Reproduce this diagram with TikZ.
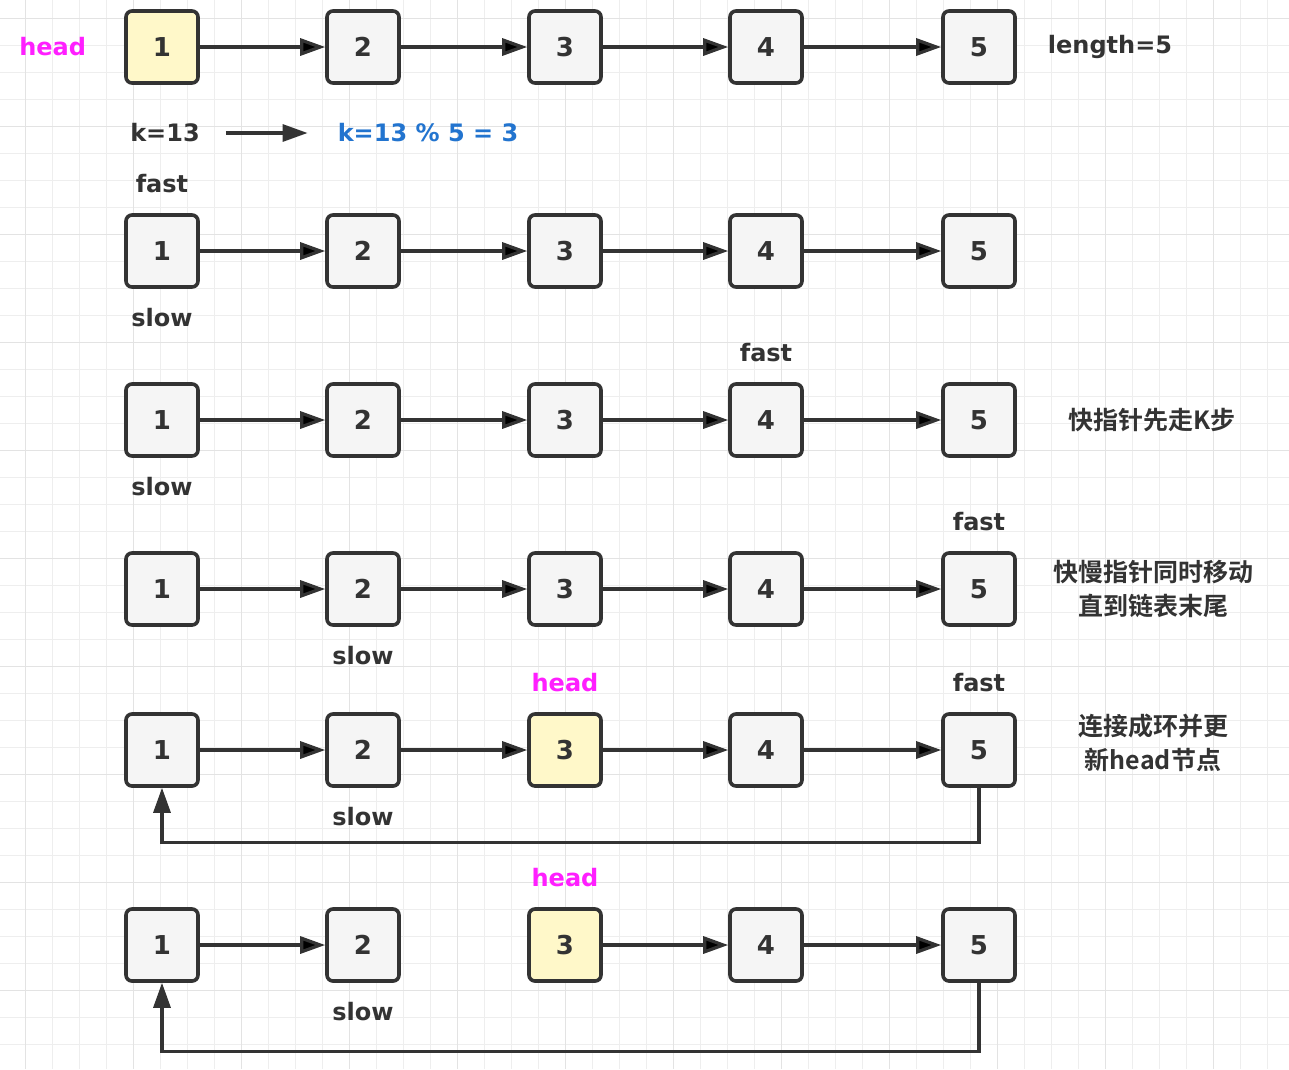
\documentclass[tikz,border=0pt]{standalone}
\usepackage{fontspec}
\setmainfont{DejaVu Sans}
\newfontfamily\cjk{Noto Sans CJK SC}[BoldFont={Noto Sans CJK SC Bold}]
\usetikzlibrary{arrows.meta, positioning}

\definecolor{linec}{HTML}{333333}
\definecolor{boxfill}{HTML}{F5F5F5}
\definecolor{headfill}{HTML}{FFF8C9}
\definecolor{headc}{HTML}{FF1FFF}
\definecolor{kblue}{HTML}{2274CF}
\definecolor{gridc}{HTML}{EEEEEE}
\definecolor{gridmaj}{HTML}{E3E3E3}

\begin{document}
\begin{tikzpicture}[x=1pt,y=-1pt,>={Triangle[length=25pt,width=17pt]},
  box/.style={draw=linec, line width=3.6pt, rounded corners=6pt, fill=boxfill,
    minimum size=72pt, inner sep=0pt, text=linec,
    font=\bfseries\fontsize{26}{30}\selectfont},
  lbl/.style={inner sep=0pt, text=linec, font=\bfseries\fontsize{24}{28}\selectfont},
  note/.style={inner sep=0pt, align=center, text=linec,
    font=\cjk\bfseries\fontsize{25}{34}\selectfont},
  link/.style={draw=linec, line width=3.2pt}]

% background and grid
\fill[white] (0,0) rectangle (1289,1069);
\useasboundingbox (0,0) rectangle (1289,1069);
\foreach \x in {25,52,...,1289} \draw[gridc, line width=1pt] (\x,0) -- (\x,1069);
\foreach \y in {18,45,...,1069} \draw[gridc, line width=1pt] (0,\y) -- (1289,\y);
\foreach \x in {25,133,...,1289} \draw[gridmaj, line width=1pt] (\x,0) -- (\x,1069);
\foreach \y in {18,126,...,1069} \draw[gridmaj, line width=1pt] (0,\y) -- (1289,\y);

% define the nodes of every list (a..f), the head node in yellow
\foreach \r/\y/\h in {a/47/1, b/251/0, c/420/0, d/589/0, e/750/3, f/945/3}
  \foreach \i/\x in {1/162, 2/363, 3/565, 4/766, 5/979} {
    \ifnum\i=\h \def\fc{headfill}\else \def\fc{boxfill}\fi
    \node[box, fill=\fc] (\r\i) at (\x,\y) {\i};
  }

% define the links
\foreach \r in {a,b,c,d,e}
  \path[link, ->] (\r1) edge (\r2)
                  (\r2) edge (\r3)
                  (\r3) edge (\r4)
                  (\r4) edge (\r5);
\path[link, ->] (f1) edge (f2)
                (f3) edge (f4)
                (f4) edge (f5);

% tail back to the first node
\draw[link, ->] (e5.south) -- ++(0,55) -| (e1.south);
\draw[link, ->] (f5.south) -- ++(0,69) -| (f1.south);

% labels
\node[lbl, text=headc, left=38pt of a1] {head};
\node[lbl] at (1110,47) {length=5};
\node[lbl] (kval) at (165,133) {k=13};
\node[lbl, text=kblue] (kmod) at (428,133) {k=13 \% 5 = 3};
\draw[link, ->, shorten <=26pt, shorten >=30pt] (kval) -- (kmod);

\node[lbl, above=20pt of b1] {fast};
\node[lbl, below=19pt of b1] {slow};
\node[lbl, above=20pt of c4] {fast};
\node[lbl, below=19pt of c1] {slow};
\node[lbl, above=20pt of d5] {fast};
\node[lbl, below=19pt of d2] {slow};
\node[lbl, text=headc, above=20pt of e3] {head};
\node[lbl, above=20pt of e5] {fast};
\node[lbl, below=19pt of e2] {slow};
\node[lbl, text=headc, above=20pt of f3] {head};
\node[lbl, below=19pt of f2] {slow};

% notes on the right
\node[note] at (1152,420) {快指针先走K步};
\node[note] at (1153,589) {快慢指针同时移动\\直到链表末尾};
\node[note] at (1153,743) {连接成环并更\\新head节点};

\end{tikzpicture}
\end{document}
